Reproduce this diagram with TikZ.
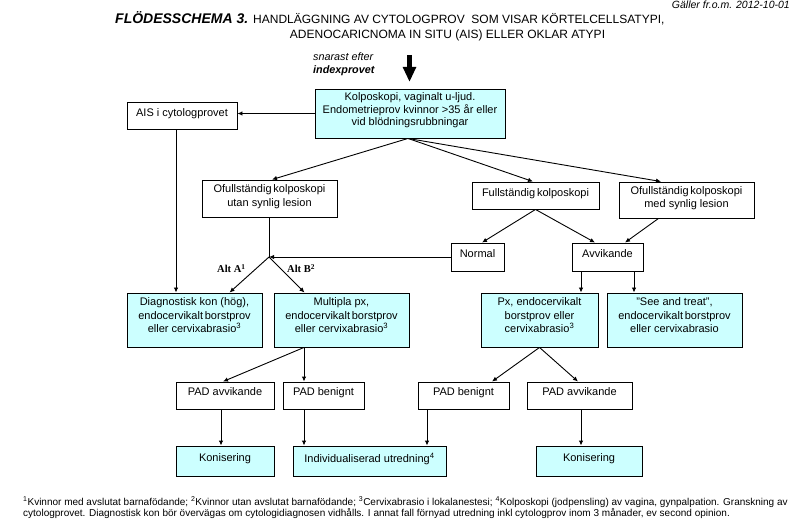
\documentclass[tikz,border=0pt]{standalone}
\usepackage{fontspec}
\setmainfont{Liberation Sans}
\newfontfamily\serifbf{Liberation Serif}
\usetikzlibrary{arrows.meta}
\definecolor{boxcyan}{HTML}{CCFFFF}
\newcommand\tsp{\hspace{1.8pt}}
\begin{document}
\begin{tikzpicture}[x=1pt,y=-1pt,
  box/.style={draw,line width=0.9pt,rectangle,inner sep=0pt,align=center,
    font=\fontsize{11}{13.5}\selectfont},
  cbox/.style={box,fill=boxcyan},
  up/.style={text depth=#1},
  arr/.style={line width=0.9pt,-{Latex[length=5pt,width=4.5pt]}},
  ln/.style={line width=0.9pt},
  lbl/.style={inner sep=0pt,font=\fontsize{10.5}{12}\serifbf\bfseries}]
\useasboundingbox (0,0) rectangle (805,526);
% header
\node[anchor=base east,inner sep=0pt,font=\fontsize{10.5}{12}\selectfont\itshape] (gal) at (790,9) {Gäller fr.o.m. 2012-10-01};
\node[anchor=base west,inner sep=0pt,font=\fontsize{14}{16}\selectfont\bfseries\itshape] (t1) at (115,24) {FLÖDESSCHEMA 3.};
\node[anchor=base west,inner sep=0pt,font=\fontsize{12}{15}\selectfont] (t2) at (253,24) {HANDLÄGGNING AV CYTOLOGPROV\ \ SOM VISAR KÖRTELCELLSATYPI,};
\node[anchor=base,inner sep=0pt,font=\fontsize{12}{15}\selectfont] (t3) at (447.5,39) {ADENOCARICNOMA IN SITU (AIS) ELLER OKLAR ATYPI};
\node[anchor=base west,inner sep=0pt,font=\fontsize{10.8}{12}\selectfont\itshape] (sn) at (313,61) {snarast efter};
\node[anchor=base west,inner sep=0pt,font=\fontsize{10.8}{12}\selectfont\itshape\bfseries] (ix) at (313,74) {indexprovet};
\coordinate (bigtop) at (409.5,55);
\coordinate (bigend) at (409.5,82);
\draw[line width=4.5pt,-{Triangle[length=15pt,width=12.5pt]}] (bigtop) -- (bigend);
% boxes
\node[cbox,minimum width=190pt,minimum height=49pt,up=8pt,font=\fontsize{11}{12.5}\selectfont] (kol) at (410,113.5) {Kolposkopi, vaginalt u-ljud.\\Endometrieprov kvinnor >35 år eller\\vid blödningsrubbningar};
\node[box,minimum width=110pt,minimum height=27pt,up=5pt] (ais) at (182,115.5) {AIS i cytologprovet};
\node[box,minimum width=135pt,minimum height=37pt,up=5.5pt] (ou) at (269.5,198.5) {Ofullständig\tsp kolposkopi\\utan synlig lesion};
\node[box,minimum width=127pt,minimum height=27pt,up=5pt] (full) at (535.5,195.5) {Fullständig\tsp kolposkopi};
\node[box,minimum width=135pt,minimum height=36pt,up=5.5pt] (om) at (686.5,200) {Ofullständig\tsp kolposkopi\\med synlig lesion};
\node[box,minimum width=53pt,minimum height=28pt,up=6pt] (normal) at (477.5,257) {Normal};
\node[box,minimum width=71pt,minimum height=28pt,up=6pt] (avv) at (607.5,257) {Avvikande};
\node[cbox,minimum width=135pt,minimum height=54pt,up=9.5pt] (diag) at (194.5,320) {Diagnostisk kon (hög),\\endocervikalt\tsp borstprov\\eller cervixabrasio\textsuperscript{3}};
\node[cbox,minimum width=135pt,minimum height=54pt,up=9.5pt] (mult) at (341.5,320) {Multipla px,\\endocervikalt\tsp borstprov\\eller cervixabrasio\textsuperscript{3}};
\node[cbox,minimum width=117pt,minimum height=54pt,up=9.5pt] (px) at (539.5,320) {Px, endocervikalt\\borstprov eller\\cervixabrasio\textsuperscript{3}};
\node[cbox,minimum width=135pt,minimum height=54pt,up=9.5pt] (see) at (674.5,320) {"See and treat",\\endocervikalt\tsp borstprov\\eller cervixabrasio};
\node[box,minimum width=98pt,minimum height=27pt,up=7pt] (pada1) at (225,395.5) {PAD avvikande};
\node[box,minimum width=81pt,minimum height=27pt,up=7pt] (padb1) at (323.5,395.5) {PAD benignt};
\node[box,minimum width=91pt,minimum height=27pt,up=7pt] (padb2) at (463.5,395.5) {PAD benignt};
\node[box,minimum width=105pt,minimum height=27pt,up=7pt] (pada2) at (579.5,395.5) {PAD avvikande};
\node[cbox,minimum width=98pt,minimum height=30pt,up=7pt] (kon1) at (225,461) {Konisering};
\node[cbox,minimum width=153pt,minimum height=30pt,up=7pt] (ind) at (369.5,461) {Individualiserad utredning\textsuperscript{4}};
\node[cbox,minimum width=106pt,minimum height=30pt,up=7pt] (kon2) at (589,461) {Konisering};
% connectors
\coordinate (J) at (269,257);
\draw[arr] (kol.west) -- (kol.west -| ais.east);
\draw[arr] ([xshift=-6pt]ais.south) -- ([xshift=-6pt]ais.south |- diag.north);
\draw[arr] ([xshift=-2pt]kol.south) -- ([xshift=2.5pt]ou.north);
\draw[arr] ([xshift=-2pt]kol.south) -- ([xshift=-2.5pt]full.north);
\draw[arr] ([xshift=-2pt]kol.south) -- ([xshift=-25.5pt]om.north);
\draw[ln] (ou.south -| J) -- (J);
\draw[arr] (normal.west) -- (J);
\draw[arr] (J) -- ([xshift=35pt]diag.north);
\draw[arr] (J) -- ([xshift=-37pt]mult.north);
\node[lbl,anchor=base west] (altA) at (217,273) {Alt A\textsuperscript{1}};
\node[lbl,anchor=base west] (altB) at (287,273) {Alt B\textsuperscript{2}};
\draw[arr] (full.south) -- ([xshift=4.5pt]normal.north);
\draw[arr] (full.south) -- ([xshift=-12.5pt]avv.north);
\draw[arr] ([xshift=-28pt]om.south) -- ([xshift=17.5pt]avv.north);
\draw[arr] ([xshift=-26.5pt]avv.south) -- ([xshift=-26.5pt]avv.south |- px.north);
\draw[arr] ([xshift=26.5pt]avv.south) -- ([xshift=26.5pt]avv.south |- see.north);
\draw[arr] ([xshift=-37.5pt]mult.south) -- ([xshift=-2pt]pada1.north);
\draw[arr] ([xshift=-37.5pt]mult.south) -- ([xshift=-37.5pt]mult.south |- padb1.north);
\draw[arr] (px.south) -- ([xshift=28.5pt]padb2.north);
\draw[arr] (px.south) -- ([xshift=-1.5pt]pada2.north);
\draw[arr] ([xshift=-4pt]pada1.south) -- ([xshift=-4pt]pada1.south |- kon1.north);
\draw[arr] ([xshift=-19.5pt]padb1.south) -- ([xshift=-19.5pt]padb1.south |- ind.north);
\draw[arr] ([xshift=-36.5pt]padb2.south) -- ([xshift=-36.5pt]padb2.south |- ind.north);
\draw[arr] ([xshift=1.5pt]pada2.south) -- ([xshift=1.5pt]pada2.south |- kon2.north);
% footnote
\node[anchor=base west,inner sep=0pt,font=\fontsize{10}{11}\selectfont] (fn1) at (23,505) {\textsuperscript{1}Kvinnor med avslutat barnafödande; \textsuperscript{2}Kvinnor utan avslutat barnafödande; \textsuperscript{3}Cervixabrasio i lokalanestesi; \textsuperscript{4}Kolposkopi (jodpensling) av vagina, gynpalpation. Granskning av};
\node[anchor=base west,inner sep=0pt,font=\fontsize{10}{11}\selectfont] (fn2) at (23,516) {cytologprovet. Diagnostisk kon bör övervägas om cytologidiagnosen vidhålls. I annat fall förnyad utredning inkl cytologprov inom 3 månader, ev second opinion.};
\end{tikzpicture}
\end{document}
